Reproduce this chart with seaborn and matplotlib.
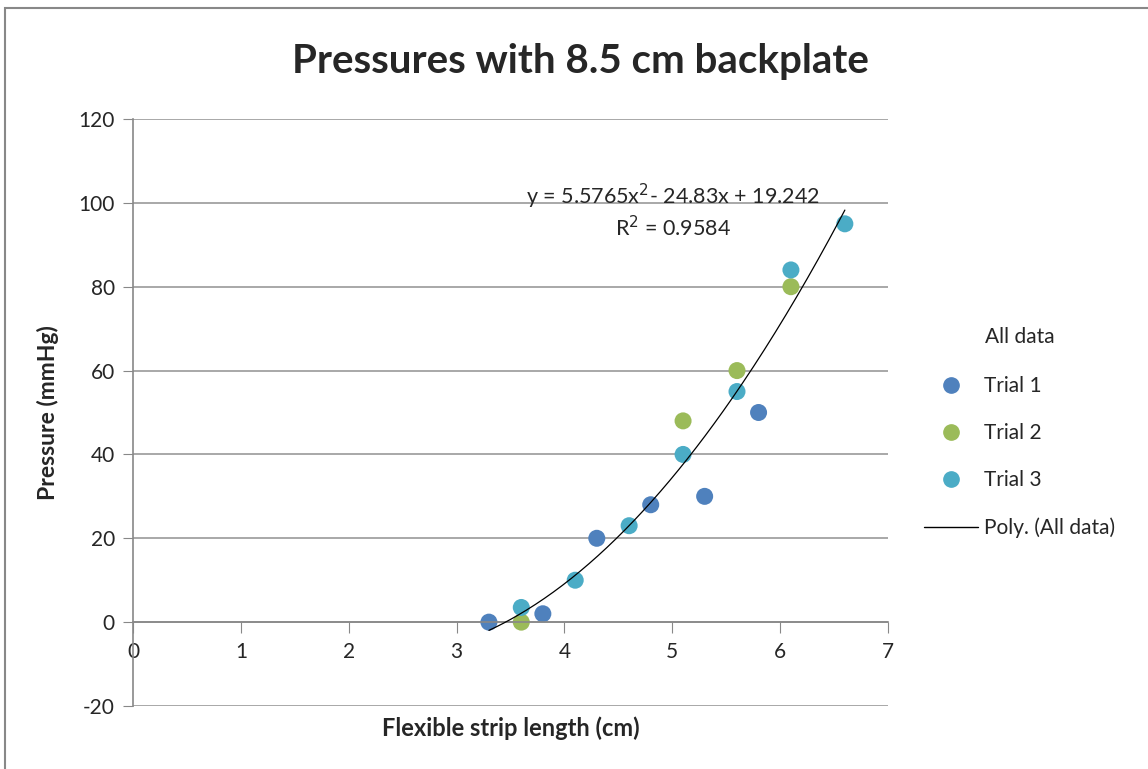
import numpy as np
import pandas as pd
import seaborn as sns
import matplotlib.pyplot as plt
from matplotlib.lines import Line2D
from matplotlib.patches import Rectangle

## Data
trial1_x = [3.3, 3.8, 4.3, 4.8, 5.3, 5.8]
trial1_y = [0, 2, 20, 28, 30, 50]
trial2_x = [3.6, 5.1, 5.6, 6.1]
trial2_y = [0, 48, 60, 80]
trial3_x = [3.6, 4.1, 4.6, 5.1, 5.6, 6.1, 6.6]
trial3_y = [3.5, 10, 23, 40, 55, 84, 95]
poly_coef = [5.5765, -24.83, 19.242]
x_ticks = [0, 1, 2, 3, 4, 5, 6, 7]
y_ticks = [-20, 0, 20, 40, 60, 80, 100, 120]
colors = {'Trial 1': '#4F81BD', 'Trial 2': '#9BBB59', 'Trial 3': '#4BACC6'}

df = pd.concat([
    pd.DataFrame({'x': trial1_x, 'y': trial1_y, 'trial': 'Trial 1'}),
    pd.DataFrame({'x': trial2_x, 'y': trial2_y, 'trial': 'Trial 2'}),
    pd.DataFrame({'x': trial3_x, 'y': trial3_y, 'trial': 'Trial 3'}),
])
all_x = trial1_x + trial2_x + trial3_x
xs = np.linspace(min(all_x), max(all_x), 200)
trend = pd.DataFrame({'x': xs, 'y': np.polyval(poly_coef, xs)})

sns.set_style('white')
plt.rcParams['font.family'] = ['Lato', 'DejaVu Sans']
plt.rcParams['axes.unicode_minus'] = False

fig = plt.figure(figsize=(11.48, 7.69), dpi=100)
ax = fig.add_axes([133/1148, 1-706/769, (888-133)/1148, (706-119)/769])
fig.patches.append(Rectangle((0.004, -0.01), 1.2, 1.0, transform=fig.transFigure,
                             fill=False, edgecolor='#888888', linewidth=1.5))

sns.lineplot(data=trend, x='x', y='y', ax=ax, color='black', linewidth=0.9, zorder=3)
sns.scatterplot(data=df, x='x', y='y', hue='trial', palette=colors, ax=ax,
                s=150, edgecolor='none', legend=False, zorder=2)

ax.set_xlim(0, 7)
ax.set_ylim(-20, 120)
ax.set_yticks(y_ticks)
ax.set_xticks(x_ticks)
for t in y_ticks:
    ax.axhline(t, color='#999999', linewidth=1.2, zorder=0)
for s in ['top', 'right']:
    ax.spines[s].set_visible(False)
ax.spines['bottom'].set_position(('data', 0))
for s in ['left', 'bottom']:
    ax.spines[s].set_color('#888888')
    ax.spines[s].set_linewidth(1.2)
ax.tick_params(axis='y', length=7, color='#888888', labelsize=15, pad=6, left=True)
ax.tick_params(axis='x', length=8, color='#888888', labelsize=15, pad=6, bottom=True)

ax.set_xlabel('')
ax.set_ylabel('Pressure (mmHg)', fontsize=16.5, fontweight='bold', labelpad=14)
fig.text(511/1148, 1-728/769, 'Flexible strip length (cm)', ha='center', va='center',
         fontsize=17, fontweight='bold')
fig.suptitle('Pressures with 8.5 cm backplate', x=580/1148, y=1-62/769,
             fontsize=29, fontweight='bold', va='center')

ax.text(5.01, 101.5, 'y = 5.5765x$^2$- 24.83x + 19.242', ha='center', va='center', fontsize=15.5)
ax.text(5.01, 94, 'R$^2$ = 0.9584', ha='center', va='center', fontsize=15.5)

fig.text(985/1148, 1-337/769, 'All data', ha='left', va='center', fontsize=15)
handles = [Line2D([], [], marker='o', linestyle='none', markersize=11,
                  color=colors[k], label=k) for k in colors]
handles.append(Line2D([], [], color='black', linewidth=1, label='Poly. (All data)'))
fig.legend(handles=handles, loc='center left', bbox_to_anchor=(905/1148, 1-457/769),
           frameon=False, fontsize=15, labelspacing=1.3, handlelength=2.6,
           handletextpad=0.3)

fig.savefig('out.png', dpi=100)
